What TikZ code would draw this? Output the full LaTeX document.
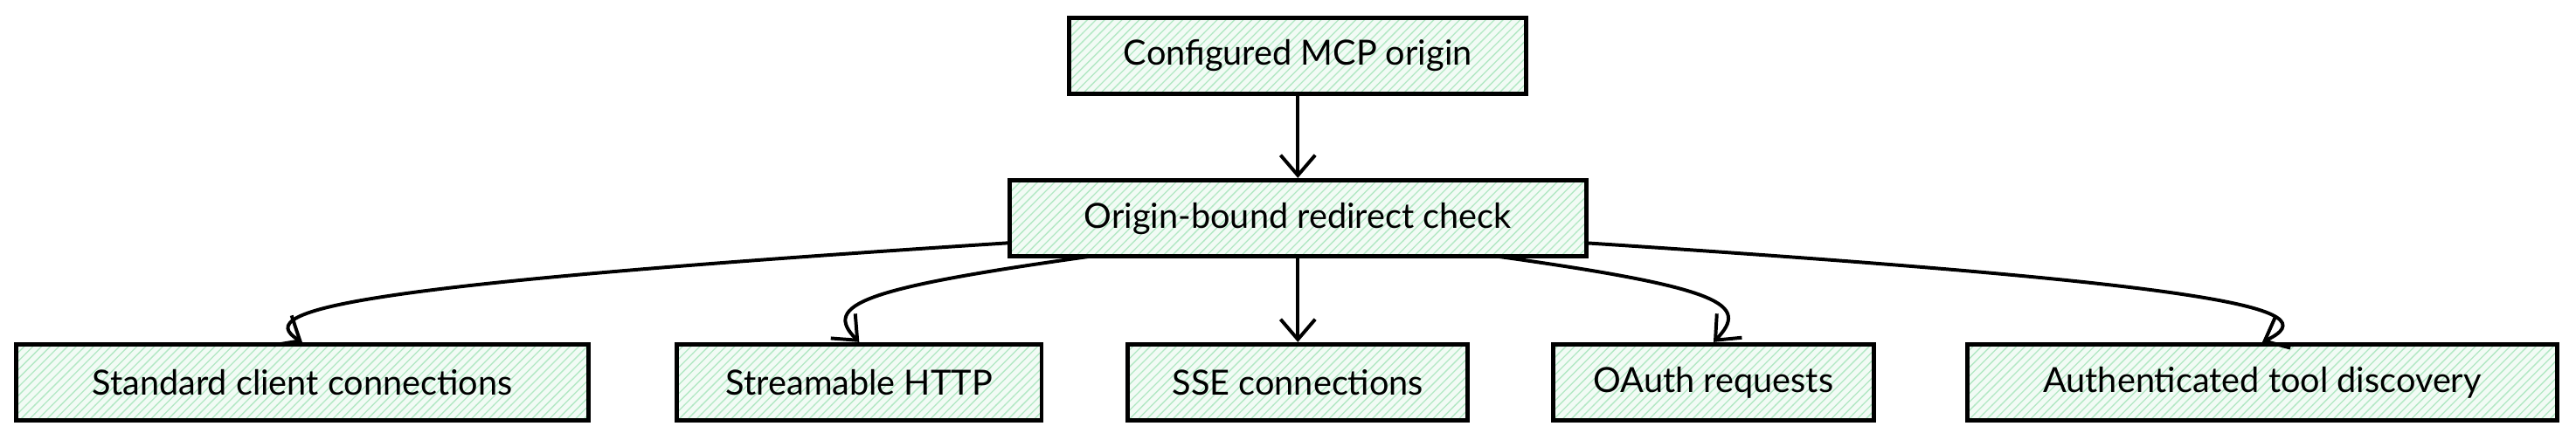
\documentclass[tikz,border=0pt]{standalone}
\usepackage{fontspec}
\setmainfont{Lato}
\usetikzlibrary{arrows.meta, patterns}
\definecolor{hatchgreen}{HTML}{B2E8C4}
\definecolor{boxfill}{HTML}{F2FBF5}

\begin{document}
\begin{tikzpicture}[font={\large}, line width=1.2pt,
every node/.style={draw, line width=1.5pt, inner sep=0 pt, minimum height=0.93 cm,
preaction={fill=boxfill}, preaction={pattern={north east lines}, pattern color=hatchgreen}},
]
\useasboundingbox (0,0) rectangle (31.36,5.36);

\path
(15.8,4.68) node[minimum width=5.56cm] (origin) {Configured MCP origin}
(15.8,2.70) node[minimum width=7.02cm] (check) {Origin-bound redirect check}
(3.68,0.70) node[minimum width=6.96cm] (std) {Standard client connections}
(10.46,0.70) node[minimum width=4.44cm] (http) {Streamable HTTP}
(15.8,0.70) node[minimum width=4.14cm] (sse) {SSE connections}
(20.86,0.70) node[minimum width=3.90cm] (oauth) {OAuth requests}
(27.54,0.70) node[minimum width=7.18cm] (disc) {Authenticated tool discovery}
;

% redirect checks
\begin{scope}[-{Straight Barb[length=7pt, width=12pt]}]
\draw (origin) -- (check) ;
\draw (check.south) -- (sse) ;
\draw (12.28,2.40) .. controls (4.5,1.9) and (3.0,1.6) .. (std.north) ;
\draw (13.30,2.24) .. controls (10.5,1.85) and (10.0,1.65) .. (http.north) ;
\draw (18.20,2.24) .. controls (21.0,1.85) and (21.3,1.65) .. (oauth.north) ;
\draw (19.30,2.40) .. controls (27.0,1.9) and (28.4,1.6) .. (disc.north) ;
\end{scope}

\end{tikzpicture}
\end{document}
